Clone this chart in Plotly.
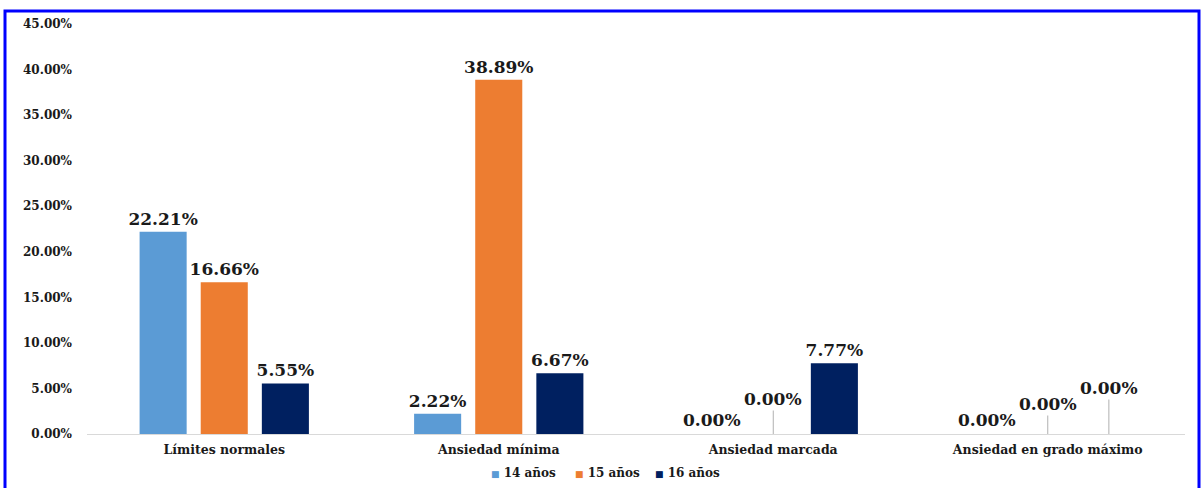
import plotly.graph_objects as go

# Chart data
categories = ["Límites normales", "Ansiedad mínima", "Ansiedad marcada", "Ansiedad en grado máximo"]
series_names = ["14 años", "15 años", "16 años"]
values_14 = [22.21, 2.22, 0.00, 0.00]
values_15 = [16.66, 38.89, 0.00, 0.00]
values_16 = [5.55, 6.67, 7.77, 0.00]
y_ticks = [0, 5, 10, 15, 20, 25, 30, 35, 40, 45]
y_tick_labels = [f"{v:.2f}%" for v in y_ticks]

colors = ["#5B9BD5", "#ED7D31", "#002060"]
series_values = [values_14, values_15, values_16]

W, H = 1204, 488
M_L, M_R, M_T, M_B = 87, 19, 24, 54
BARGAP = 0.332
plot_h = H - M_T - M_B
plot_w = W - M_L - M_R

label_font = dict(family="DejaVu Serif", size=17, color="#1a1a1a", weight="bold")
tick_font = dict(family="DejaVu Serif", size=12.5, color="#1a1a1a", weight="bold")
legend_font = dict(family="DejaVu Serif", size=12, color="#1a1a1a", weight="bold")

fig = go.Figure()
for name, vals, col in zip(series_names, series_values, colors):
    fig.add_trace(go.Bar(
        x=categories, y=vals, name=name, marker=dict(color=col, line=dict(width=0)),
        text=[f"{v:.2f}%" if v > 0 else "" for v in vals],
        textposition="outside", textfont=label_font, cliponaxis=False,
        constraintext="none", showlegend=False,
    ))

# zero-value labels, some lifted with a leader line
slot = (1 - BARGAP) / len(series_names)
lift = {(2, 1): -35, (3, 1): -30, (3, 2): -46}
for si, vals in enumerate(series_values):
    for ci, v in enumerate(vals):
        if v != 0:
            continue
        xpos = ci + (si - 1) * slot
        key = (ci, si)
        if key in lift:
            fig.add_annotation(
                x=xpos, y=v, xref="x", yref="y", text=f"{v:.2f}%",
                showarrow=True, arrowhead=0, arrowwidth=1, arrowcolor="#b0b0b0",
                ax=0, ay=lift[key], font=label_font, standoff=0,
            )
        else:
            fig.add_annotation(
                x=xpos, y=v, xref="x", yref="y", text=f"{v:.2f}%",
                showarrow=False, yanchor="bottom", yshift=2, font=label_font,
            )

# legend row below the axis: small coloured square + series name
legend_left_px = [489, 573, 653]
legend_y = -(473 - (H - M_B)) / plot_h
for name, col, px in zip(series_names, colors, legend_left_px):
    fig.add_annotation(
        xref="paper", yref="paper", x=(px - M_L) / plot_w, y=legend_y,
        xanchor="left", yanchor="middle", showarrow=False,
        text=f'<span style="color:{col};font-size:9px">■</span> {name}',
        font=legend_font,
    )

# blue frame around the chart
fig.add_shape(
    type="rect", xref="paper", yref="paper",
    x0=(5 - M_L) / plot_w, x1=(1199 - M_L) / plot_w,
    y0=-(H + 20 - (H - M_B)) / plot_h, y1=1 + (M_T - 11) / plot_h,
    line=dict(color="#0000FF", width=3), layer="above",
)

fig.update_layout(
    width=W, height=H,
    margin=dict(l=M_L, r=M_R, t=M_T, b=M_B, autoexpand=False),
    paper_bgcolor="white", plot_bgcolor="white",
    barmode="group", bargap=BARGAP, bargroupgap=0.23,
    showlegend=False,
    xaxis=dict(
        showgrid=False, showline=True, linecolor="#d9d9d9", linewidth=1,
        ticks="", tickfont=tick_font, ticklabelstandoff=4,
    ),
    yaxis=dict(
        range=[0, 45], tickmode="array", tickvals=y_ticks, ticktext=y_tick_labels,
        showgrid=False, zeroline=False, showline=False,
        tickfont=dict(family="DejaVu Serif", size=12, color="#1a1a1a", weight="bold"),
        ticklabelstandoff=14,
    ),
)

fig.write_html("out.html")
